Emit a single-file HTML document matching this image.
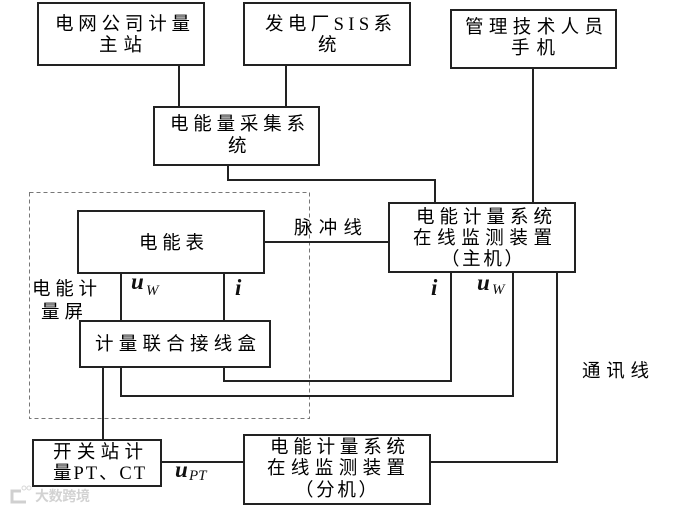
<!DOCTYPE html>
<html><head><meta charset="utf-8">
<style>
html,body{margin:0;padding:0;background:#fff;width:679px;height:509px;overflow:hidden}
svg{display:block}
.c{font-family:"WenQuanYi Zen Hei","Noto Sans CJK SC",sans-serif;font-size:18.5px;fill:#000}
.l{font-family:"Liberation Serif","WenQuanYi Zen Hei","Noto Sans CJK SC",serif}
.m{font-family:"Liberation Serif",serif;font-style:italic;font-weight:bold;font-size:23px;fill:#111}
.s{font-family:"Liberation Serif",serif;font-style:italic;font-size:15px;fill:#111}
rect{fill:#fff;stroke:#222;stroke-width:2}
path{fill:none;stroke:#222;stroke-width:2}
</style></head><body>
<svg width="679" height="509" viewBox="0 0 679 509" xmlns="http://www.w3.org/2000/svg">
<rect x="29.5" y="192.5" width="280" height="226" style="fill:none;stroke:#777;stroke-width:1;stroke-dasharray:4 3"/>
<path d="M179 65V107M286 65V107M533 68V203M228 165V180H435V203M264 242H389M121 273V321M224 273V321M103 367V440M121 367V396H513V272M224 367V381H451V272M557 272V462H430M161 462H244"/>
<rect x="38" y="3" width="166" height="62"/>
<rect x="244" y="3" width="166" height="62"/>
<rect x="451" y="10" width="165" height="58"/>
<rect x="154" y="107" width="165" height="58"/>
<rect x="389" y="203" width="186" height="69"/>
<rect x="78" y="211" width="186" height="62"/>
<rect x="80" y="321" width="190" height="46"/>
<rect x="33" y="440" width="128" height="46"/>
<rect x="244" y="435" width="186" height="69"/>

<text class="c" x="55" y="30" textLength="135">电网公司计量</text>
<text class="c" x="99" y="51" textLength="43">主站</text>
<text class="c l" x="265" y="30" textLength="127">发电厂SIS系</text>
<text class="c" x="318" y="51">统</text>
<text class="c" x="465" y="33" textLength="138">管理技术人员</text>
<text class="c" x="511" y="54" textLength="44">手机</text>
<text class="c" x="170" y="130" textLength="135">电能量采集系</text>
<text class="c" x="228" y="152">统</text>
<text class="c" x="416" y="223" textLength="136">电能计量系统</text>
<text class="c" x="413" y="244" textLength="139">在线监测装置</text>
<text class="c" x="441" y="265" textLength="82">（主机）</text>
<text class="c" x="139" y="249" textLength="65">电能表</text>
<text class="c" x="95" y="350" textLength="161">计量联合接线盒</text>
<text class="c" x="294" y="234" textLength="68">脉冲线</text>
<text class="c" x="32" y="295" textLength="65">电能计</text>
<text class="c" x="41" y="318" textLength="42">量屏</text>
<text class="c" x="582" y="377" textLength="67">通讯线</text>
<text class="c" x="53" y="458" textLength="90">开关站计</text>
<text class="c l" x="53" y="479" textLength="92">量PT、CT</text>
<text class="c" x="270" y="453" textLength="135">电能计量系统</text>
<text class="c" x="267" y="474" textLength="138">在线监测装置</text>
<text class="c" x="295" y="496" textLength="82">（分机）</text>

<text class="m" x="131" y="289">u</text><text class="s" x="146" y="295">W</text>
<text class="m" x="235" y="295">i</text>
<text class="m" x="431" y="295">i</text>
<text class="m" x="477" y="290">u</text><text class="s" x="492" y="294">W</text>
<text class="m" x="175" y="477">u</text><text class="s" x="189" y="480">PT</text>

<text x="35" y="501" textLength="55" style="font-family:'WenQuanYi Zen Hei','Noto Sans CJK SC',sans-serif;font-size:14px;font-weight:bold;fill:#d2d2d2">大数跨境</text>
<path d="M21 491H12V502H26" style="stroke:#d0d0d0;stroke-width:3"/>
<circle cx="24" cy="488" r="2" style="fill:none;stroke:#d8d8d8;stroke-width:1"/>
<circle cx="29" cy="488" r="2" style="fill:none;stroke:#d8d8d8;stroke-width:1"/>
</svg>
</body></html>
